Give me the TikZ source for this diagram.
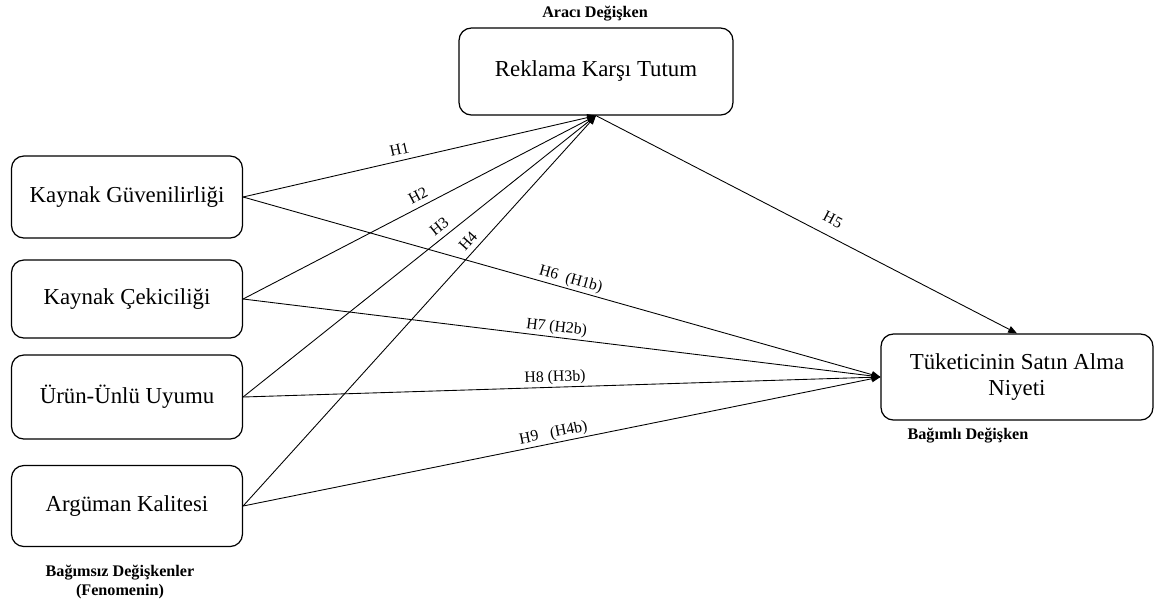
\documentclass[tikz,border=0pt]{standalone}
\usepackage{fontspec}
\setmainfont{Liberation Serif}
\usetikzlibrary{arrows.meta}
\tikzset{
  var/.style={draw, rounded corners=7pt, line width=0.7pt, align=center,
    font=\fontsize{13}{15.3}\selectfont},
  note/.style={font=\bfseries\fontsize{9.2}{11}\selectfont, align=center},
  hyp/.style={font=\fontsize{9}{10}\selectfont, sloped, above, inner sep=1pt},
  link/.style={line width=0.5pt, -{Triangle[length=5pt,width=4pt]}},
}
\begin{document}
\begin{tikzpicture}[x=0.02cm, y=-0.02cm]
  \useasboundingbox (0,0) rectangle (1157,606);
  \pgfmathsetmacro{\xleft}{127}

  % Independent variables.
  \node[var, minimum width=4.62cm, minimum height=1.64cm] (kg) at (\xleft,197) {Kaynak Güvenilirliği};
  \node[var, minimum width=4.62cm, minimum height=1.56cm] (kc) at (\xleft,299) {Kaynak Çekiciliği};
  \node[var, minimum width=4.62cm, minimum height=1.68cm] (uu) at (\xleft,397) {Ürün-Ünlü Uyumu};
  \node[var, minimum width=4.62cm, minimum height=1.62cm] (ak) at (\xleft,506) {Argüman Kalitesi};
  \node[note] (bag) at (120,582) {Bağımsız Değişkenler\\(Fenomenin)};

  % Mediator and outcome.
  \node[var, minimum width=5.48cm, minimum height=1.74cm] (rek) at (596,71.5) {Reklama Karşı Tutum};
  \node[note] (ara) at (595,14) {Aracı Değişken};
  \node[var, minimum width=5.44cm, minimum height=1.72cm] (tuk) at (1017,377) {Tüketicinin Satın Alma\\Niyeti};
  \node[note] (bgm) at (968,436) {Bağımlı Değişken};

  % Paths to the mediator.
  \foreach \src/\lab/\p in {kg/H1/0.45, kc/H2/0.51, uu/H3/0.575, ak/H4/0.66}
  \draw[link] (\src.east) -- (rek.south) node[hyp, pos=\p, above=2pt] {\lab};
  \draw[link] (rek.south) -- (tuk.north) node[hyp, pos=0.545, above=5pt] {H5};

  % Direct paths.
  \foreach \src/\lab/\p in {kg/{H6\ \ (H1b)}/0.51, kc/{H7 (H2b)}/0.49, uu/{H8\ (H3b)}/0.49, ak/{H9\ \ \ (H4b)}/0.49}
  \draw[link] (\src.east) -- (tuk.west) node[hyp, pos=\p] {\lab};

\end{tikzpicture}
\end{document}
